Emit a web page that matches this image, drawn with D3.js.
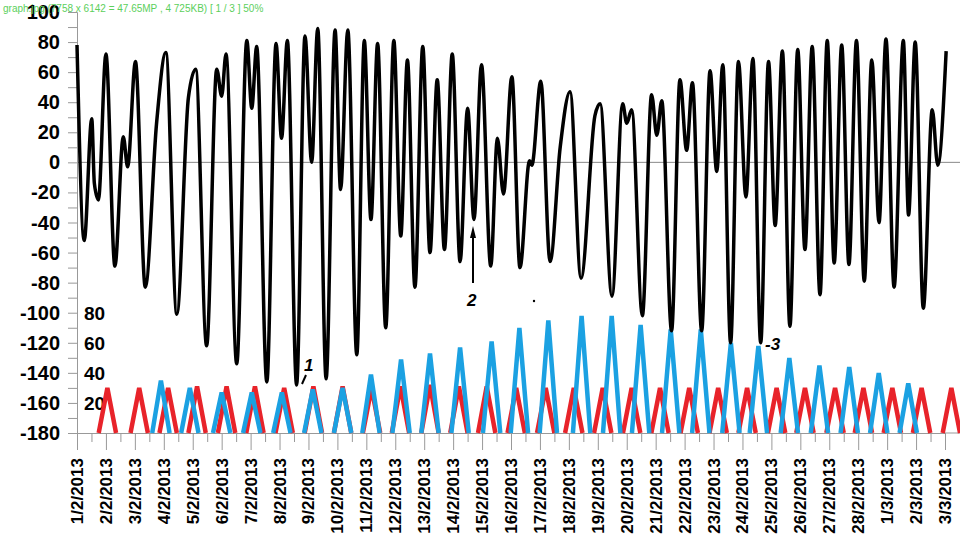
<!DOCTYPE html>
<html>
<head>
<meta charset="utf-8">
<script src="https://cdn.jsdelivr.net/npm/d3@7"></script>
<style>
  body { margin: 0; background: #fff; }
  text { font-family: "Liberation Sans", Arial, sans-serif; }
</style>
</head>
<body>
<svg id="chart" width="960" height="545"></svg>
<script>
// black curve: turning points (day offset from 1/2/2013, value)
const tideDays = [0, .25, .51, .6, .74, 1.0, 1.31, 1.6, 1.75, 2.02, 2.36, 2.75, 3.07, 3.45, 3.85, 4.1, 4.48, 4.83, 5.0, 5.15, 5.52, 5.87, 6.04, 6.21, 6.56, 6.88, 7.07, 7.27, 7.59, 7.88, 8.11, 8.32, 8.61, 8.92, 9.11, 9.36, 9.67, 9.93, 10.16, 10.39, 10.67, 10.95, 11.19, 11.42, 11.68, 11.95, 12.2, 12.45, 12.7, 12.97, 13.24, 13.5, 13.72, 13.98, 14.3, 14.53, 14.74, 15.03, 15.31, 15.64, 15.72, 16.03, 16.35, 16.7, 17.04, 17.42, 17.9, 18.08, 18.49, 18.86, 19.0, 19.17, 19.54, 19.86, 20.04, 20.21, 20.55, 20.84, 21.07, 21.27, 21.59, 21.88, 22.11, 22.32, 22.59, 22.86, 23.12, 23.36, 23.63, 23.9, 24.13, 24.38, 24.64, 24.91, 25.16, 25.41, 25.68, 25.93, 26.17, 26.43, 26.68, 26.94, 27.21, 27.47, 27.72, 27.96, 28.24, 28.56, 28.74, 28.97, 29.25, 29.56, 29.75, 30.04];
const tideValues = [78, -52, 29, -14, -25, 72, -69, 17, -3, 67, -83, 26, 73, -101, 43, 62, -122, 62, 44, 72, -134, 81, 36, 77, -146, 79, 16, 81, -148, 84, 0, 89, -144, 88, -18, 88, -128, 81, -38, 79, -110, 81, -49, 68, -83, 77, -60, 55, -58, 72, -66, 36, -38, 65, -69, 16, -21, 57, -70, 1, -2, 54, -66, 10, 47, -77, 31, 39, -89, 39, 26, 35, -102, 45, 18, 41, -112, 55, 8, 53, -112, 61, -6, 65, -120, 67, -23, 69, -120, 67, -42, 74, -109, 75, -58, 77, -88, 81, -67, 78, -68, 81, -79, 68, -40, 82, -83, 81, -35, 80, -97, 35, -2, 74];

// red triangles (lower panel, 0-80 scale)
const redPeakDays = [1.05, 2.15, 3.15, 4.15, 5.17, 6.15, 7.16, 8.17, 9.18, 10.18, 11.18, 12.2, 13.2, 14.16, 15.18, 16.2, 17.17, 18.17, 19.17, 20.15, 21.16, 22.16, 23.16, 24.18, 25.16, 26.2, 27.18, 28.18, 29.19, 30.22];
const redPeakValues = [30, 30, 30, 31, 31, 31, 30, 31, 31, 30, 31, 32, 31, 31, 30, 30, 30, 30, 30, 30, 30, 30, 30, 30, 30, 30, 30, 30, 30, 30];

// blue triangles
const bluePeakDays = [2.9, 3.9, 5.0, 6.04, 7.08, 8.15, 9.18, 10.16, 11.2, 12.2, 13.24, 14.33, 15.29, 16.29, 17.44, 18.48, 19.48, 20.52, 21.56, 22.6, 23.55, 24.62, 25.66, 26.69, 27.71, 28.73];
const bluePeakValues = [35, 30, 27, 27, 27, 29, 30, 39, 49, 53, 57, 61, 70, 75, 78, 78, 72, 69, 69, 60, 58, 50, 45, 44, 40, 33];

const dateLabels = d3.range(1, 29).map(d => d + "/2/2013").concat(["1/3/2013", "2/3/2013", "3/3/2013"]);
const yTicks = d3.range(-180, 101, 20);
const lowerTicks = [20, 40, 60, 80];

const svg = d3.select("#chart");
const x = d3.scaleLinear().domain([0, 30]).range([77, 945]);
const y = d3.scaleLinear().domain([-180, 100]).range([433, 12]);
const y2 = d3.scaleLinear().domain([0, 80]).range([433, 313]);
const halfBase = 0.3;

// zero line and axes
svg.append("line").attr("x1", 77).attr("x2", 960).attr("y1", y(0)).attr("y2", y(0))
  .attr("stroke", "#888").attr("stroke-width", 1);

const yAxis = svg.append("g").attr("transform", "translate(77,0)")
  .call(d3.axisLeft(y).tickValues(d3.range(-180, 101, 10)).tickSize(9).tickFormat(""));
yAxis.selectAll("line, path").attr("stroke", "#999");
svg.selectAll(".ylab").data(yTicks).enter().append("text")
  .attr("x", 60).attr("y", d => y(d) + 7).attr("text-anchor", "end")
  .attr("font-size", 20).attr("font-weight", "bold").text(d => d);

svg.selectAll(".y2lab").data(lowerTicks).enter().append("text")
  .attr("x", 84).attr("y", d => y2(d) + 7)
  .attr("font-size", 19).attr("font-weight", "bold").text(d => d);

const xAxis = svg.append("g").attr("transform", "translate(0,433)")
  .call(d3.axisBottom(x).tickValues(d3.range(0, 30.01, 0.5)).tickSize(9).tickFormat(""));
xAxis.selectAll("line, path").attr("stroke", "#999");
xAxis.selectAll(".tick line").attr("y2", (d) => d % 1 === 0 ? 17 : 9);
svg.append("line").attr("x1", 945).attr("x2", 960).attr("y1", 433).attr("y2", 433).attr("stroke", "#999");

svg.selectAll(".xlab").data(dateLabels).enter().append("text")
  .attr("transform", (d, i) => `translate(${x(i) + 6},458) rotate(-90)`)
  .attr("text-anchor", "end").attr("font-size", 17).attr("font-weight", "bold").text(d => d);

// triangles
const tri = d3.line().x(d => x(d[0])).y(d => y2(d[1]));
function triangles(days, vals, color) {
  svg.append("g").selectAll("path").data(days).enter().append("path")
    .attr("d", (d, i) => tri([[d - halfBase, 0], [d, vals[i]], [d + halfBase, 0]]))
    .attr("fill", "none").attr("stroke", color).attr("stroke-width", 4.5)
    .attr("stroke-linejoin", "miter");
}
triangles(redPeakDays, redPeakValues, "#e8232a");
triangles(bluePeakDays, bluePeakValues, "#1ba1e2");

// black curve
const tide = tideDays.map((d, i) => [d, tideValues[i]]);
svg.append("path").datum(tide)
  .attr("d", d3.line().x(d => x(d[0])).y(d => y(d[1])).curve(d3.curveMonotoneX))
  .attr("fill", "none").attr("stroke", "#000").attr("stroke-width", 3.5);

// annotations
const note = svg.append("g").attr("font-size", 17).attr("font-weight", "bold").attr("font-style", "italic");
note.append("text").attr("x", 304).attr("y", 371).text("1");
svg.append("line").attr("x1", 306).attr("y1", 375).attr("x2", 302).attr("y2", 384).attr("stroke", "#000").attr("stroke-width", 2);
note.append("text").attr("x", 467).attr("y", 306).text("2");
svg.append("line").attr("x1", 473).attr("y1", 283).attr("x2", 473).attr("y2", 232).attr("stroke", "#000").attr("stroke-width", 2);
svg.append("path").attr("d", "M473,226 L470,238 L476,238 Z").attr("fill", "#000");
note.append("text").attr("x", 765).attr("y", 350).text("-3");
svg.append("circle").attr("cx", 534).attr("cy", 301).attr("r", 1.2).attr("fill", "#000");

svg.append("text").attr("x", 3).attr("y", 12).attr("font-size", 10)
  .attr("fill", "#5ccf5c").attr("font-family", "DejaVu Sans, sans-serif")
  .text("graph.jpg  (7758 x 6142 = 47.65MP  ,  4 725KB)  [ 1 / 3 ]   50%");
</script>
</body>
</html>
